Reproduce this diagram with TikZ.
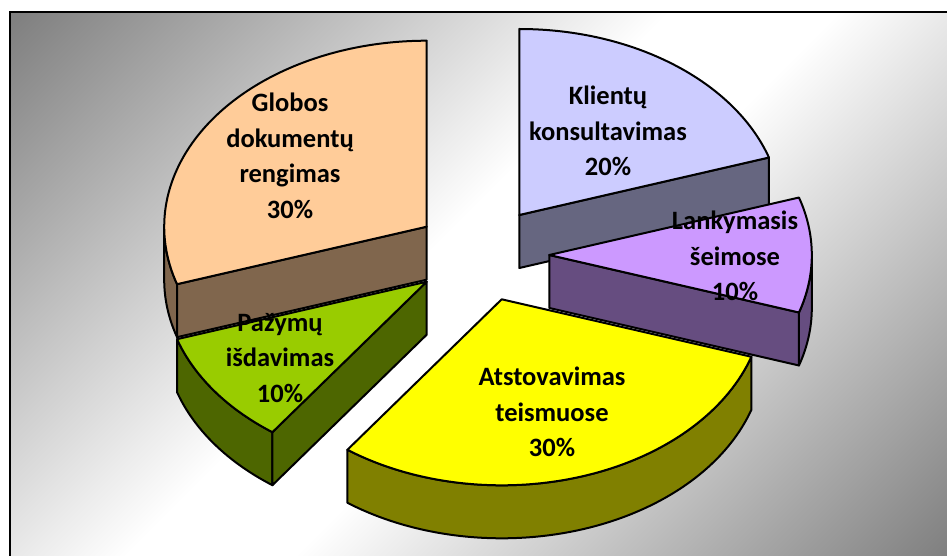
\documentclass[tikz,border=0pt]{standalone}
\usepackage{fontspec}
\setmainfont{Carlito}
\usetikzlibrary{calc}

\definecolor{bggray}{HTML}{808080}
\definecolor{gltop}{HTML}{FFCC99}
\definecolor{glside}{HTML}{80664D}
\definecolor{kltop}{HTML}{CCCCFF}
\definecolor{klside}{HTML}{666680}
\definecolor{lktop}{HTML}{CC99FF}
\definecolor{lkside}{HTML}{664D80}
\definecolor{pztop}{HTML}{99CC00}
\definecolor{pzside}{HTML}{4D6600}
\definecolor{attop}{HTML}{FFFF00}
\definecolor{atside}{HTML}{808000}

\pgfdeclarehorizontalshading{bgdiag}{100bp}{color(0bp)=(bggray); color(15bp)=(bggray); color(46bp)=(white); color(54bp)=(white); color(85bp)=(bggray); color(100bp)=(bggray)}

\tikzset{
	face/.style={draw=black, line width=2pt, line join=round},
	pie/.style={x radius=262.5, y radius=186},
	slicelabel/.style={font=\fontsize{26.5}{35.5}\selectfont\bfseries, align=center, inner sep=0pt},
}

\begin{document}
\begin{tikzpicture}[x=1pt, y=1pt]
	\useasboundingbox (0,0) rectangle (947,555);
	\fill[white] (0,0) rectangle (947,555);
	\shade[shading=bgdiag, shading angle=-45] (10,-4) rectangle (951,543);
	\draw[line width=2.2pt] (10,-4) rectangle (951,543);

	% slice centres
	\coordinate (kc) at (519.3,340);
	\coordinate (gc) at (426.7,328.3);
	\coordinate (lc) at (549.3,300);
	\coordinate (pc) at (426.7,273.3);
	\coordinate (ac) at (501.7,255.7);

	\begin{scope}[pie]
		% Klientu konsultavimas
		\draw[face, fill=klside] (kc) -- ++(18:262.5 and 186) -- ++(0,-53) -- ($(kc)+(0,-53)$) -- cycle;
		\draw[face, fill=kltop] (kc) -- ++(18:262.5 and 186) arc[start angle=18, end angle=90] -- cycle;

		% Globos dokumentu rengimas
		\draw[face, fill=glside] (gc) ++(180:262.5 and 186) arc[start angle=180, end angle=198] -- ++(0,-53) arc[start angle=198, end angle=180] -- cycle;
		\draw[face, fill=glside] (gc) -- ++(198:262.5 and 186) -- ++(0,-53) -- ($(gc)+(0,-53)$) -- cycle;
		\draw[face, fill=gltop] (gc) -- ++(90:262.5 and 186) arc[start angle=90, end angle=198] -- cycle;

		% Lankymasis seimose
		\draw[face, fill=lkside] (lc) ++(342:262.5 and 186) arc[start angle=342, end angle=360] -- ++(0,-53) arc[start angle=360, end angle=342] -- cycle;
		\draw[face, fill=lkside] (lc) -- ++(342:262.5 and 186) -- ++(0,-53) -- ($(lc)+(0,-53)$) -- cycle;
		\draw[face, fill=lktop] (lc) -- ++(342:262.5 and 186) arc[start angle=342, end angle=378] -- cycle;

		% Pazymu isdavimas
		\draw[face, fill=pzside] (pc) ++(198:262.5 and 186) arc[start angle=198, end angle=234] -- ++(0,-53) arc[start angle=234, end angle=198] -- cycle;
		\draw[face, fill=pzside] (pc) -- ++(234:262.5 and 186) -- ++(0,-53) -- ($(pc)+(0,-53)$) -- cycle;
		\draw[face, fill=pztop] (pc) -- ++(198:262.5 and 186) arc[start angle=198, end angle=234] -- cycle;

		% Atstovavimas teismuose
		\draw[face, fill=atside] (ac) ++(234:262.5 and 186) arc[start angle=234, end angle=342] -- ++(0,-53) arc[start angle=342, end angle=234] -- cycle;
		\draw[face, fill=attop] (ac) -- ++(234:262.5 and 186) arc[start angle=234, end angle=342] -- cycle;
	\end{scope}

	% labels
	\node[slicelabel] (globos) at (290,399) {Globos\\dokumentų\\rengimas\\30\%};
	\node[slicelabel] (klientu) at (608,424) {Klientų\\konsultavimas\\20\%};
	\node[slicelabel] (lankymasis) at (735,299) {Lankymasis\\šeimose\\10\%};
	\node[slicelabel] (pazymu) at (280,197) {Pažymų\\išdavimas\\10\%};
	\node[slicelabel] (atstovavimas) at (552,143) {Atstovavimas\\teismuose\\30\%};
\end{tikzpicture}
\end{document}
